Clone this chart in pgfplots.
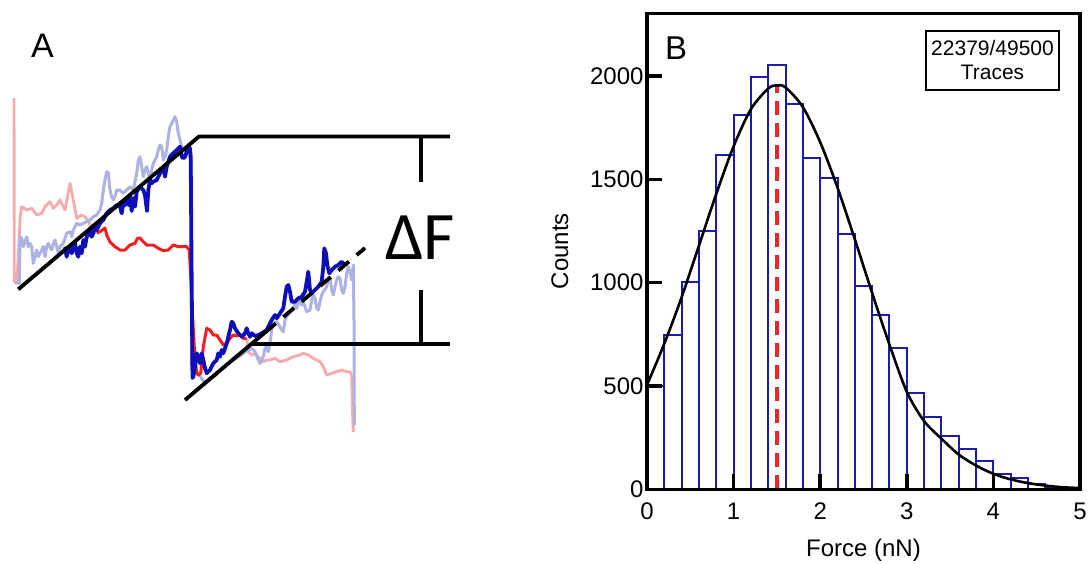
\documentclass[border=0pt]{standalone}
\usepackage{pgfplots}
\pgfplotsset{compat=1.18}
\usepackage{fontspec}
\setmainfont{Liberation Sans}
\newfontfamily\carlito{Carlito}
\definecolor{tblue}{RGB}{15,15,185}
\definecolor{tred}{RGB}{238,32,32}
\definecolor{lblue}{RGB}{172,178,226}
\definecolor{lpink}{RGB}{246,172,172}
\definecolor{hblue}{RGB}{28,28,172}
\definecolor{dred}{RGB}{232,42,36}
\begin{document}
\begin{tikzpicture}
\useasboundingbox (0pt,0pt) rectangle (1090pt,-564pt);
% ---------------- Panel A ----------------
\begin{axis}[name=A, at={(0pt,0pt)}, anchor=north west, scale only axis,
  width=1090pt, height=564pt, xmin=0, xmax=1090, ymin=0, ymax=564,
  y dir=reverse, hide axis, clip=false]
% pink (light red) trace, upper part
\addplot[lpink, line width=2.9pt, line join=round] coordinates {
(14,98)(14.3,282)(17,281)(19.5,235)(20,218.3)(21.7,206.7)(26.7,210)(31.7,208.3)(36.7,215)(41.7,213.3)(45,206.7)(50,201.7)(53.3,208.3)(56.7,205)(60,200)(65,210)(70,183.3)(73.3,200)(76.7,218.3)(81.7,215)(85,216.7)(88.3,221.7)(91.7,226.7)(96.7,233)};
% pink trace, lower part
\addplot[lpink, line width=2.9pt, line join=round] coordinates {
(246.7,338.3)(248.3,351.7)(251.7,355)(255,353.3)(260,358.3)(263.3,361.7)(266.7,360)(270,360)(275,358.3)(280,361.7)(286.7,360)(293.3,356.7)(300,355)(303.3,353.3)(308.3,355)(313.3,358.3)(320,361.7)(323.3,366.7)(326.7,375)(331.7,373.3)(336.7,371.7)(341.7,370)(346.7,371.7)(350,371.7)(351.7,376.7)(352.5,410)(353.3,432)};
% light blue trace
\addplot[lblue, line width=3pt, line join=round] coordinates {
(15,283)(19.3,283.3)(20,236.7)(21.7,238.3)(23.3,246.7)(25,241.7)(26.7,236.7)(28.3,246.7)(30,243.3)(31.7,246.7)(33.3,263.3)(35,256.7)(36.7,250)(38.3,256.7)(40,253.3)(41.7,250)(43.3,246.7)(45,256.7)(46.7,246.7)(48.3,243.3)(50,246.7)(51.7,250)(53.3,243.3)(55,240)(56.7,246.7)(58.3,253.3)(60,246.7)(63.3,243.3)(66.7,233.3)(70,231.7)(71.7,236.7)(73.3,230)(76.7,223.3)(80,225)(83.3,223.3)(86.7,221.7)(90,220)(93.3,216.7)(96.7,215)(100,210)(101.7,203.3)(103.3,190)(105,180)(106.7,171.7)(108.3,172.7)(110,190)(111.7,196.7)(113.3,200)(115,196.7)(116.7,190)(120,190)(123.3,193.3)(126.7,190)(130,186.7)(133.3,190)(136.7,173.3)(138.3,160)(140,156.7)(141.7,166.7)(143.3,176.7)(145,170)(146.7,166.7)(148.3,173.3)(150,180)(151.7,170)(153.3,163.3)(156.7,156.7)(158.3,150)(160,145)(161.7,146.7)(163.3,160)(165,156.7)(166.7,150)(168.3,136.7)(170,126.7)(171.7,123.3)(173.3,120)(175,116.7)(176.7,121.7)(178.3,133.3)(180,140)(181.7,146.7)(183.3,150)(188,152)(191,160)(191.5,370)(200,376)(205,383)(210,378)(215,376)(222,368)(230,362)(240,356)(245,352)(251.7,348.3)(255,351.7)(258.3,360)(260,363.3)(261.7,360)(263.3,356.7)(265,348.3)(266.7,346.7)(268.3,351.7)(270,343.3)(271.7,330)(273.3,323.3)(276.7,321.7)(280,326.7)(281.7,330)(283.3,331.7)(285,320)(286.7,316.7)(290,311.7)(293.3,308.3)(295,303.3)(296.7,308.3)(298.3,303.3)(300,300)(301.7,305)(303.3,301.7)(306.7,311.7)(310,310)(311.7,300)(313.3,295)(315,298.3)(316.7,308.3)(318.3,310)(320,301.7)(321.7,295)(323.3,291.7)(326.7,286.7)(328.3,280)(330,278.3)(331.7,290)(333.3,295)(335,286.7)(336.7,280)(338.3,276.7)(340,278.3)(341.7,290)(343.3,293.3)(345,286.7)(346.7,273.3)(348.3,266.7)(350,271.7)(351.7,280)(352.7,270)(353.3,265)(354,320)(354.3,425)};
% red trace
\addplot[tred, line width=3pt, line join=round] coordinates {
(96.7,233)(100,231.7)(103.3,229.3)(105,228)(106.7,235)(110,242)(115,246.7)(120,250)(125,250)(130,245)(135,243.3)(137.5,238.3)(140,238)(143.3,241.7)(146.7,245)(153.3,245)(158.3,248.3)(163.3,250.7)(168.3,250)(173.3,245)(178.3,246.7)(183.3,246.7)(186.7,246.7)(189.3,250)(190,263.3)(191.7,300)(193.3,330)(195,360)(196.7,372)(198.3,375)(200.7,373.3)(203.3,346.7)(206.7,328.3)(210,330)(213.3,335)(216.7,335)(220,340)(223.3,345)(226.7,343.3)(230,338.3)(233.3,335)(236.7,336)(240,335)(243.3,338.3)(246.7,338.3)};
% dark blue trace
\addplot[tblue, line width=3.8pt, line join=round] coordinates {
(63.3,253.3)(65,248.3)(66.7,256.7)(68.3,250)(70,246.7)(71.7,253.3)(73.3,248.3)(75,243.3)(76.7,253.3)(78.3,256.7)(80,246.7)(81.7,253.3)(83.3,240)(85,246.7)(86.7,236.7)(88.3,235)(90,230)(91.7,236.7)(93.3,233.3)(95,226.7)(96.7,230)(100,223.3)(103.3,220)(106.7,213.3)(110,210)(113.3,208.3)(116.7,205)(120,206.7)(121.7,213.3)(123.3,203.3)(125,205)(126.7,200)(128.3,205)(130,196)(131.7,211)(133.3,198)(135,206.7)(136.7,191.7)(140,186.7)(143.3,190)(145,195)(147,211)(148.3,190)(150,180)(151.7,183.3)(153.3,181.7)(156.7,180)(160,173.3)(163.3,166.7)(165,176.7)(166.7,166.7)(168.3,161.7)(170,156.7)(173.3,153.3)(176.7,150)(180,146.7)(181.7,156.7)(183.3,158.3)(185,156.7)(186.7,151.7)(188.3,146.7)(190,148.3)(190.7,156.7)(191.5,260)(192.5,378)(193.3,376.7)(195,366.7)(196.7,353.3)(198.3,356.7)(200,363.3)(201.7,353.3)(203.3,360)(205,368.3)(206.7,373.3)(210,370)(213.3,363.3)(216.7,360)(218.3,353.3)(220,356.7)(221.7,350)(223.3,353.3)(226.7,343.3)(230,330)(231.7,321.7)(233.3,323.3)(235,328.3)(238.3,333.3)(241.7,336.7)(245,333.3)(246.7,328.3)(248.3,333.3)(250,336.7)(251.7,333.3)(255,336)(258.3,335)(261.7,333.3)(266.7,330)(271.7,320)(275,315)(276.7,318.3)(280,313.3)(283.3,308.3)(285,296.7)(286.7,286.7)(288.3,285)(290,291.7)(291.7,301.7)(295,301.7)(298.3,298.3)(301.7,296.7)(305,291.7)(306.7,281.7)(308.3,271.7)(310,290)(311.7,293.3)(315,290)(318.3,286.7)(321.7,281.7)(323.3,266.7)(324.3,248.3)(326,253.3)(327.3,265)(329.3,273.3)(331.7,270)(335,266.7)(338.3,265)(341.7,261.7)(343.3,263.3)(345,266.7)};
% black guide lines
\addplot[black, line width=3.8pt, line join=round] coordinates {(18.3,289.3)(199,136.5)(450,136.5)};
\addplot[black, line width=3.8pt] coordinates {(185,400)(265,332.5)};
\addplot[black, line width=3.8pt] coordinates {(251.4,344)(450,344)};
\addplot[black, line width=3.8pt, dash pattern=on 14pt off 10pt] coordinates {(265,332.5)(365,248)};
\addplot[black, line width=3.8pt] coordinates {(421,136.5)(421,182)};
\addplot[black, line width=3.8pt] coordinates {(421,290)(421,344)};
\node at (axis cs:42.5,46.3) {\fontsize{34}{34}\selectfont A};
\node at (axis cs:420,238) {\carlito\fontsize{68}{68}\selectfont ΔF};
\end{axis}
% ---------------- Panel B ----------------
\begin{axis}[at={(647pt,-13.3pt)}, anchor=north west, scale only axis,
  width=433pt, height=476pt,
  xmin=0, xmax=5, ymin=0, ymax=2304,
  xtick={0,1,2,3,4,5}, ytick={0,500,1000,1500,2000},
  tick align=inside, tick pos=left,
  major tick length=15pt,
  tick style={line width=3.5pt, black},
  axis line style={line width=3.3pt},
  axis on top,
  /pgf/number format/assume math mode=true,
  /pgf/number format/1000 sep={},
  tick label style={font=\fontsize{24}{28}\selectfont},
  xticklabel style={yshift=-10pt},
  xlabel={Force (nN)}, ylabel={Counts},
  label style={font=\fontsize{24}{28}\selectfont},
  xlabel style={at={(axis description cs:0.5,-0.1275)}, anchor=center},
  ylabel style={at={(axis description cs:-0.201,0.5)}, anchor=center},
]
\addplot[ybar interval, draw=hblue, fill=none, line width=2pt] coordinates {
(0.0,500)(0.2,748)(0.4,1003)(0.6,1251)(0.8,1620)(1.0,1814)(1.2,1994)(1.4,2053)(1.6,1863)(1.8,1606)(2.0,1509)(2.2,1235)(2.4,982)(2.6,845)(2.8,684)(3.0,465)(3.2,350)(3.4,260)(3.6,195)(3.8,138)(4.0,75)(4.2,54)(4.4,24)(4.6,12)(4.8,7)(5.0,0)};
\addplot[dred, line width=4.2pt, dash pattern=on 14pt off 8pt] coordinates {(1.5,0)(1.5,1950)};
\addplot[black, line width=2.6pt, smooth] coordinates {
(0,505)(0.2,705)(0.4,930)(0.6,1180)(0.8,1430)(1.0,1660)(1.2,1840)(1.4,1940)(1.5,1955)(1.6,1945)(1.8,1850)(2.0,1680)(2.2,1460)(2.4,1210)(2.6,950)(2.8,700)(3.0,472)(3.2,330)(3.4,245)(3.6,168)(3.8,115)(4.0,75)(4.2,48)(4.4,30)(4.6,18)(4.8,10)(5.0,6)};
\node at (rel axis cs:0.067,0.927) {\fontsize{33}{33}\selectfont B};
\node[draw, fill=white, line width=1.8pt, minimum width=133pt, minimum height=59pt, align=center, inner sep=0pt, font=\fontsize{21}{24}\selectfont] at (rel axis cs:0.798,0.901) {22379/49500\\Traces};
\end{axis}
\end{tikzpicture}
\end{document}
